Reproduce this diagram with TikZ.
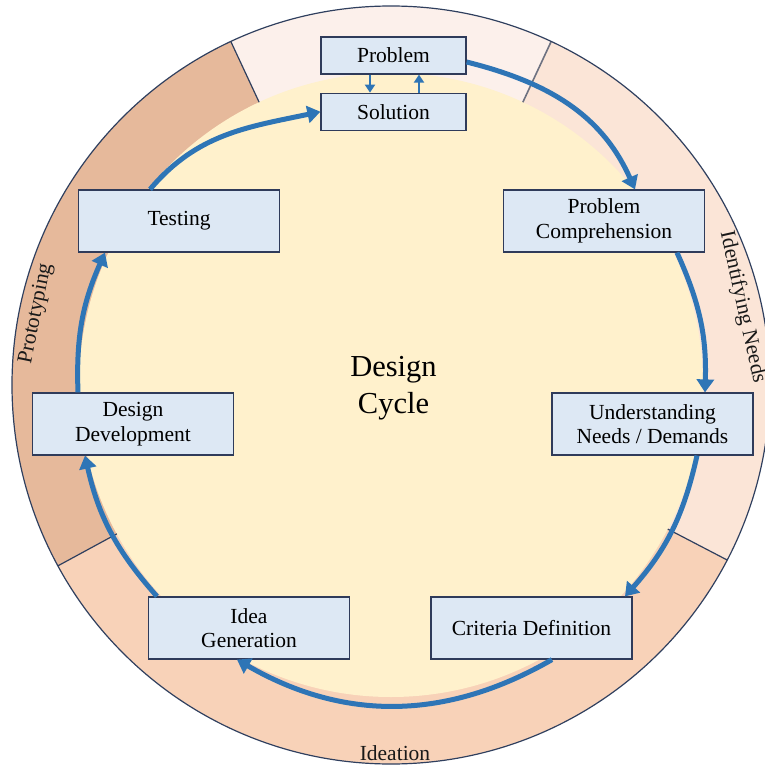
\documentclass[tikz,border=0pt]{standalone}
\usepackage{fontspec}
\setmainfont{Liberation Serif}
\usepackage{tikz}
\usetikzlibrary{arrows.meta,positioning}
\definecolor{cycblue}{HTML}{2E75B6}
\definecolor{boxfill}{HTML}{DDE8F4}
\definecolor{boxline}{HTML}{2F3B5A}
\definecolor{core}{HTML}{FFF1CC}
\definecolor{segtop}{HTML}{FCF0EB}
\definecolor{segright}{HTML}{FBE5D7}
\definecolor{segbot}{HTML}{F8D2B8}
\definecolor{segleft}{HTML}{E6B99B}
\definecolor{ringline}{HTML}{2F3F5E}
\tikzset{
    %Define standard arrow tip
    >={Triangle[width=17pt,length=13pt]},
    %Define style for boxes
    stage/.style={
           draw=boxline,
           fill=boxfill,
           line width=1.2pt,
           minimum width=201pt,
           minimum height=62pt,
           inner sep=2pt,
           align=center,
           text=black,
           font=\fontsize{21.5}{24.5}\selectfont,},
    smallstage/.style={stage, minimum width=145pt, minimum height=37pt},
    %Define style for arrows
    cyc/.style={
           ->,
           draw=cycblue,
           line width=5pt,},
    pairpil/.style={
           -{Triangle[width=10pt,length=8pt]},
           draw=cycblue,
           line width=2.5pt,},
    %Define style for ring
    ringedge/.style={draw=ringline, line width=1.2pt},
    ringlabel/.style={text=black!90, font=\fontsize{21.5}{24}\selectfont}
}

\begin{document}
\begin{tikzpicture}[x=1pt, y=1pt]
 \useasboundingbox (-391,-381) rectangle (373,385);

 %ring
 \foreach \a/\b/\c in {65/115/segtop, 115/208.5/segleft, 208.5/332.5/segbot, -27.5/65/segright}
   \fill[\c] (0,0) -- (\a:379pt) arc[start angle=\a, end angle=\b, radius=379pt] -- cycle;
 \fill[core] (0,0) circle[radius=312pt];
 \foreach \a in {115,208.5,332.5}
   \draw[ringedge] (\a:312pt) -- (\a:379pt);
 \draw[draw={rgb,255:red,110;green,114;blue,129}, line width=1.6pt] (65:312pt) -- (65:379pt);
 \draw[ringedge] (0,0) circle[radius=379pt];

 \node[ringlabel, rotate=78.6] (proto) at (168.6:362pt) {Prototyping};
 \node[ringlabel, rotate=-77.5] (needs) at (12.5:360pt) {Identifying Needs};
 \node[ringlabel] (ideat) at (4,-368) {Ideation};

 %nodes
 \node[smallstage] (prob) at (2.5,329.5) {Problem};
 \node[smallstage, below=18pt of prob] (sol) {Solution};
 \node[stage] (pc) at (213,164) {Problem\\Comprehension};
 \node[stage] (und) at (261.5,-39) {Understanding\\Needs / Demands};
 \node[stage] (crit) at (140.5,-243) {Criteria Definition};
 \node[stage] (idea) at (-142,-243) {Idea\\Generation};
 \node[stage] (dd) at (-258,-39) {Design\\Development};
 \node[stage] (test) at (-212,164) {Testing};
 \node[align=center, text=black, font=\fontsize{30.5}{37}\selectfont] (title) at (2.5,-3) {Design\\Cycle};

 %arrows
 \draw[pairpil] ([xshift=-23.5pt]prob.south) -- ([xshift=-23.5pt]sol.north);
 \draw[pairpil] ([xshift=25.5pt]sol.north) -- ([xshift=25.5pt]prob.south);
 \draw[cyc] ([yshift=-6.5pt]prob.east) to[out=-14, in=114] ([xshift=31pt]pc.north);
 \draw[cyc] ([xshift=73pt]pc.south) to[bend left=13] ([xshift=52.5pt]und.north);
 \draw[cyc] ([xshift=44.5pt]und.south) to[bend left=14.5] ([xshift=93.5pt]crit.north);
 \draw[cyc] ([xshift=20.5pt]crit.south) to[bend left=30] ([xshift=-12pt]idea.south);
 \draw[cyc] ([xshift=-92pt]idea.north) to[bend left=14.5] ([xshift=-48pt]dd.south);
 \draw[cyc] ([xshift=-55pt]dd.north) to[bend left=13] ([xshift=-74pt]test.south);
 \draw[cyc] ([xshift=-29pt]test.north) to[out=50, in=192] (sol.west);

\end{tikzpicture}
\end{document}
